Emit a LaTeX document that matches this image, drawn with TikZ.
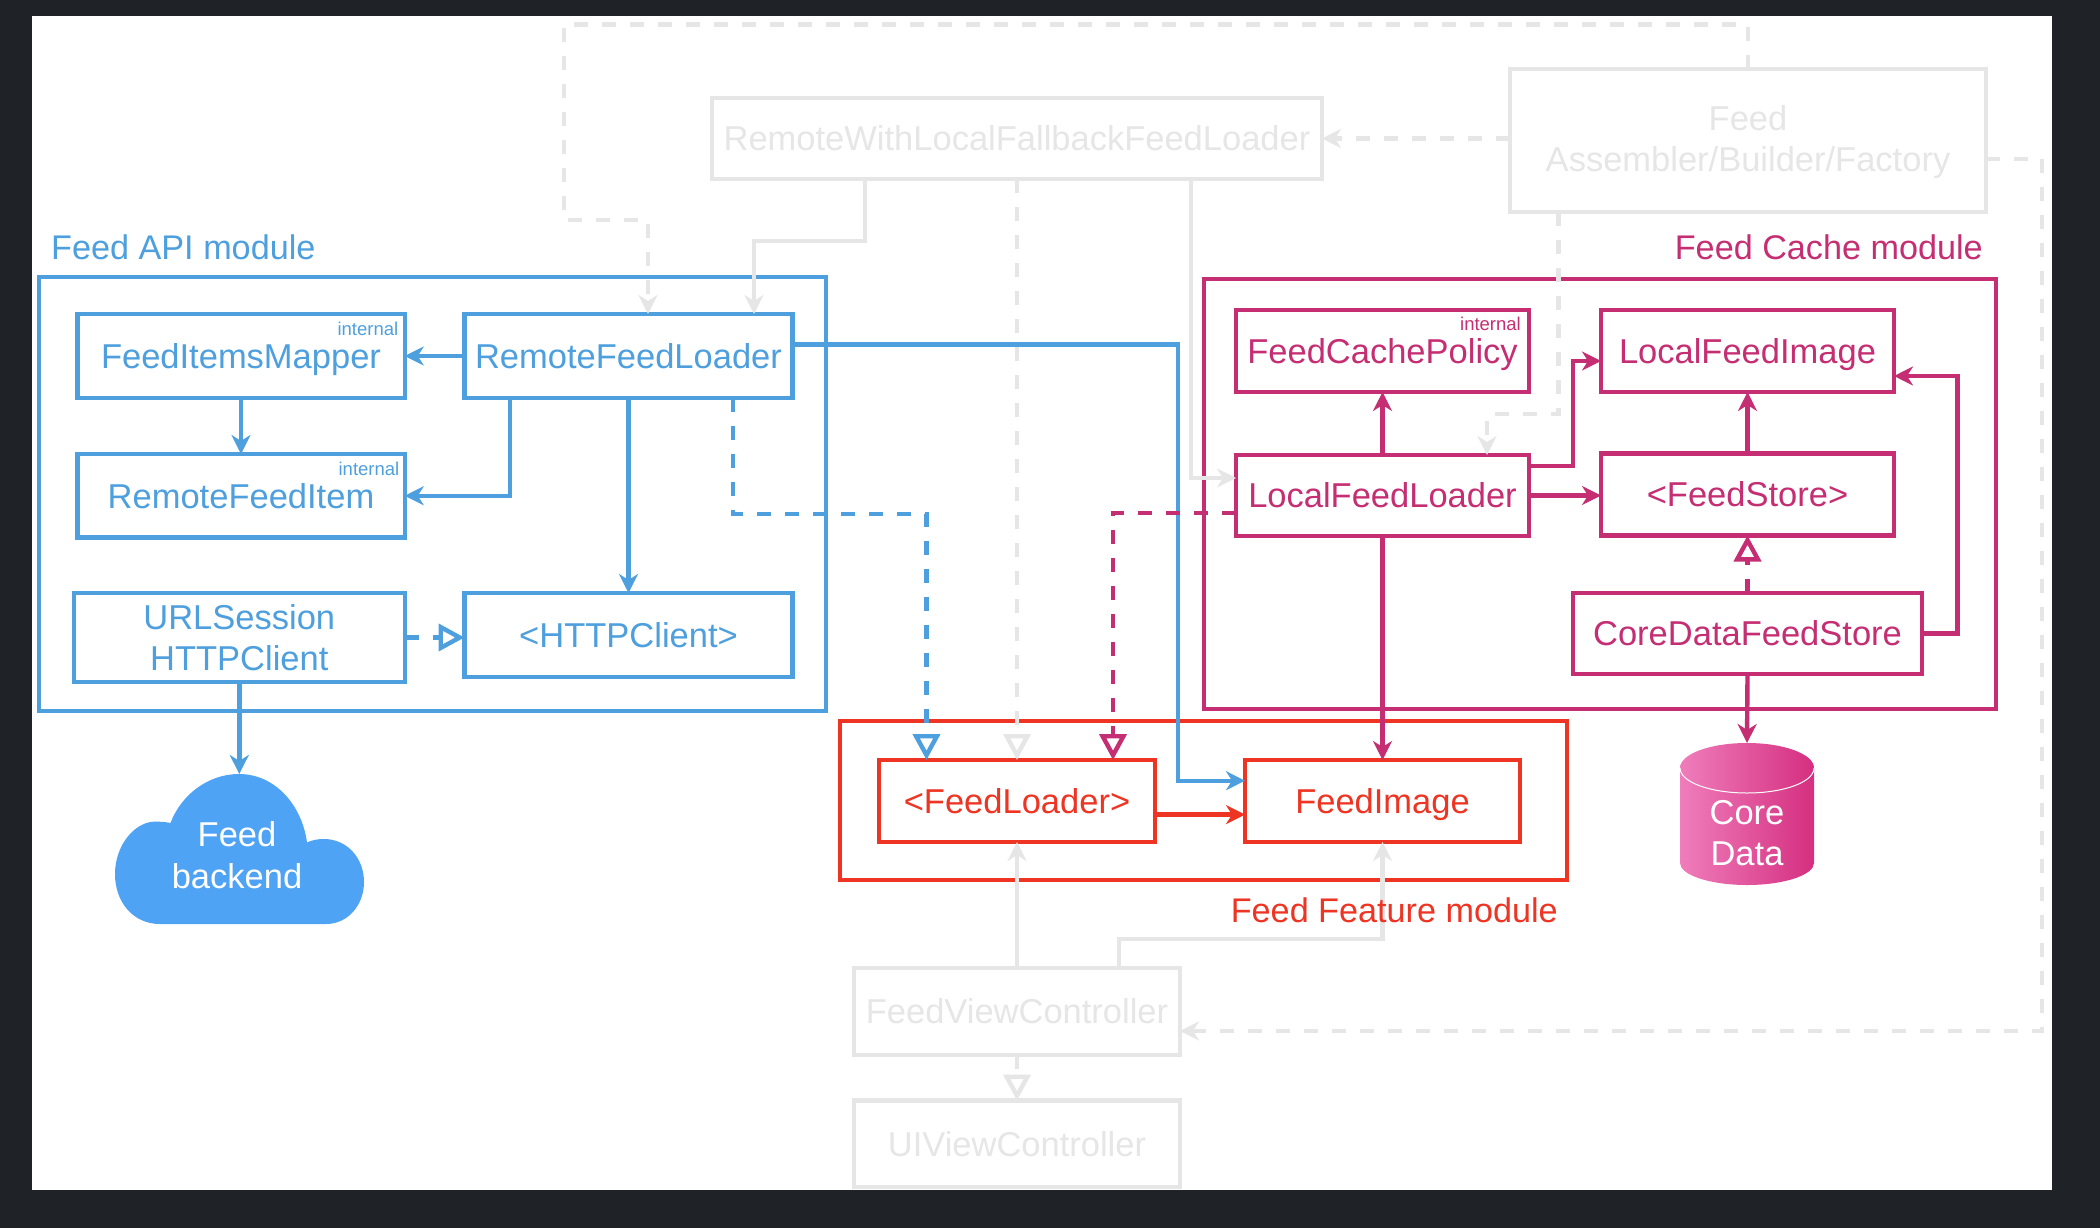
\documentclass[tikz,border=0pt]{standalone}
\usepackage{fontspec}
\setmainfont{Liberation Sans}
\usetikzlibrary{arrows.meta,calc}
\definecolor{bl}{HTML}{4E9FDE}
\definecolor{mg}{HTML}{C52E72}
\definecolor{rd}{HTML}{EE3524}
\definecolor{gy}{HTML}{E6E6E6}
\definecolor{darkbg}{HTML}{1F2227}
\definecolor{cloudc}{HTML}{4FA3F5}
\definecolor{cylL}{HTML}{EF7DBB}
\definecolor{cylR}{HTML}{D52F80}
\tikzset{
  bx/.style={draw,line width=4.5pt,inner sep=0pt,outer sep=0pt,align=center,
    font=\fontsize{34.5}{41}\selectfont,text height=27pt,text depth=2.4pt},
  twol/.style={draw,line width=4.5pt,inner sep=0pt,outer sep=0pt,align=center,
    font=\fontsize{34.5}{41}\selectfont},
  frame/.style={draw,line width=4pt,inner sep=0pt,outer sep=0pt},
  lbl/.style={inner sep=0pt,font=\fontsize{34.2}{41}\selectfont},
  intl/.style={inner sep=0pt,anchor=base east,font=\fontsize{18.5}{20}\selectfont},
  con/.style={line width=4.4pt},
  head/.style={con,-{Stealth[length=19pt,width=19pt,inset=6pt]}},
  hollow/.style={con,-{Triangle[open,length=26pt,width=27pt,fill=white]}},
  dsh/.style={dash pattern=on 14pt off 14pt}
}
\newcommand{\hs}{\rule{0pt}{28pt}}
\newcommand{\ds}{\rule[-3.4pt]{0pt}{3.4pt}}
\begin{document}
\begin{tikzpicture}[x=1pt,y=-1pt]
\useasboundingbox (0,0) rectangle (2100,1228);
\fill[darkbg] (0,0) rectangle (2100,1228);
\fill[white] (32,16) rectangle (2052,1190);
% module frames
\node[frame,draw=bl,minimum width=787pt,minimum height=434pt] (apif) at (432.5,494) {};
\node[frame,draw=mg,minimum width=792.5pt,minimum height=430pt] (cachef) at (1599.75,494) {};
\node[frame,draw=rd,line width=4.5pt,minimum width=727pt,minimum height=159pt] (featf) at (1203.5,800.5) {};
% cloud and cylinder
\fill[cloudc] (170.5,823) .. controls (181,795) and (208,774) .. (239,774)
  .. controls (275,774) and (302,805) .. (307,842.5)
  .. controls (312,840) and (318,839) .. (324,839)
  .. controls (347,839) and (364,858) .. (364,882)
  .. controls (364,905) and (348,924) .. (326,924) -- (160,924)
  .. controls (133,924) and (115,902) .. (115,874)
  .. controls (115,845) and (135,821.6) .. (155,821.6)
  .. controls (160,821.6) and (166,822) .. (170.5,823) -- cycle;
\shade[left color=cylL,right color=cylR] (1680,768) .. controls (1680,754) and (1710,743) .. (1747,743)
  .. controls (1784,743) and (1814,754) .. (1814,768) -- (1814,863)
  .. controls (1814,875) and (1784,885) .. (1747,885)
  .. controls (1710,885) and (1680,875) .. (1680,863) -- cycle;
\draw[white,line width=1pt] (1680,768) .. controls (1680,782) and (1710,793) .. (1747,793)
  .. controls (1784,793) and (1814,782) .. (1814,768);
\node[text=white,inner sep=0pt,outer sep=0pt,align=center,minimum width=249pt,minimum height=150pt,
  font=\fontsize{34.5}{41.5}\selectfont] (cloud) at (237,849) {\rule{0pt}{40pt}Feed\\backend\ds};
\node[text=white,inner sep=0pt,outer sep=0pt,align=center,minimum width=134pt,minimum height=142pt,
  font=\fontsize{34.5}{41}\selectfont] (cyl) at (1747,814) {\rule{0pt}{66pt}Core\\Data\ds};
% blue boxes
\node[bx,draw=bl,text=bl,minimum width=327.5pt,minimum height=84pt] (fim) at (241,356) {FeedItemsMapper};
\node[bx,draw=bl,text=bl,minimum width=328pt,minimum height=84pt] (rfl) at (628.5,356) {RemoteFeedLoader};
\node[bx,draw=bl,text=bl,minimum width=327.5pt,minimum height=83.5pt] (rfi) at (241,495.75) {RemoteFeedItem};
\node[twol,draw=bl,text=bl,minimum width=331pt,minimum height=89pt] (url) at (239.3,637.5) {\hs URLSession\\HTTPClient\ds};
\node[bx,draw=bl,text=bl,minimum width=328pt,minimum height=84pt] (http) at (628.5,635) {<HTTPClient>};
% magenta boxes
\node[bx,draw=mg,text=mg,minimum width=293pt,minimum height=82pt] (fcp) at (1382.5,351) {FeedCachePolicy};
\node[bx,draw=mg,text=mg,minimum width=293pt,minimum height=82pt] (lfi) at (1747.5,351) {LocalFeedImage};
\node[bx,draw=mg,text=mg,minimum width=293pt,minimum height=81pt] (lfl) at (1382.5,495.5) {LocalFeedLoader};
\node[bx,draw=mg,text=mg,minimum width=293pt,minimum height=82pt] (fs) at (1747.5,494.5) {<FeedStore>};
\node[bx,draw=mg,text=mg,minimum width=349pt,minimum height=81pt] (cdfs) at (1747.5,633.5) {CoreDataFeedStore};
% red boxes
\node[bx,draw=rd,text=rd,minimum width=276pt,minimum height=82pt] (fl) at (1017,801) {<FeedLoader>};
\node[bx,draw=rd,text=rd,minimum width=275pt,minimum height=82pt] (fi) at (1382.5,801) {FeedImage};
% gray boxes
\node[bx,draw=gy,text=gy,minimum width=610pt,minimum height=81pt] (rwl) at (1017,138.5) {RemoteWithLocalFallbackFeedLoader};
\node[twol,draw=gy,text=gy,minimum width=476pt,minimum height=143pt] (asm) at (1748,140.5) {\hs Feed\\Assembler/Builder/Factory\ds};
\node[bx,draw=gy,text=gy,minimum width=326pt,minimum height=87pt] (fvc) at (1017,1011.5) {FeedViewController};
\node[bx,draw=gy,text=gy,minimum width=326pt,minimum height=86.5pt] (uivc) at (1017,1143.75) {UIViewController};
% bend coordinates
\coordinate (topl) at (564,24.7);
\coordinate (midl) at (564,220);
\coordinate (rb) at (2042,159);
% gray connectors
\begin{scope}[draw=gy,color=gy]
\draw[head,dsh] (asm.north) |- (topl) -- (midl) -| ([xshift=19.5pt]rfl.north);
\draw[head] ([xshift=-152pt]rwl.south) -- ++(0,62) -| ([xshift=125.5pt]rfl.north);
\draw[hollow,dsh] (rwl.south) -- (fl.north);
\draw[head] ([xshift=174pt]rwl.south) |- ([yshift=17.5pt]lfl.west);
\draw[head,dsh] (asm.west |- rwl.east) -- (rwl.east);
\draw[head,dsh] ([xshift=-189.5pt]asm.south) -- ++(0,202) -| ([xshift=104.5pt]lfl.north);
\draw[head,dsh] ([yshift=-18.5pt]asm.east) -- (rb) |- ([yshift=-19.5pt]fvc.east);
\draw[head] (fvc.north) -- (fl.south);
\draw[head] ([xshift=102pt]fvc.north) -- ++(0,-29) -| (fi.south);
\draw[hollow,dsh] (fvc.south) -- (uivc.north);
\end{scope}
% blue connectors
\begin{scope}[draw=bl,color=bl]
\draw[head] (rfl.west) -- (fim.east);
\draw[head] (fim.south) -- (rfi.north);
\draw[head] ([xshift=-118.5pt]rfl.south) |- (rfi.east);
\draw[head] (rfl.south) -- (http.north);
\draw[hollow,dsh] (url.east) -- (http.west |- url.east);
\draw[head] (url.south) -- (url.south |- cloud.north);
\draw[hollow,dsh] ([xshift=104.5pt]rfl.south) -- ++(0,116) -| ([xshift=-90.5pt]fl.north);
\draw[head] ([yshift=11.4pt]rfl.east) -- ++(385.5,0) |- ([yshift=20.3pt]fi.west);
\end{scope}
% magenta connectors
\begin{scope}[draw=mg,color=mg]
\draw[hollow,dsh] ([yshift=-17.5pt]lfl.west) -| ([xshift=96pt]fl.north);
\draw[head] (lfl.north) -- (fcp.south);
\draw[head] ([yshift=29.5pt]lfl.east) -- ++(44,0) |- ([yshift=-10pt]lfi.west);
\draw[head] (lfl.east) -- (fs.west |- lfl.east);
\draw[head] (fs.north) -- (lfi.south);
\draw[hollow,dsh] (cdfs.north) -- (fs.south);
\draw[head] (cdfs.east) -- ++(35.6,0) |- ([yshift=-25pt]lfi.east);
\draw[head] (cdfs.south) -- (cyl.north);
\draw[head] (lfl.south) -- (fi.north);
\end{scope}
% red connector
\draw[head,draw=rd,color=rd] ([yshift=-13.6pt]fl.east) -- ([yshift=-13.6pt]fi.west);
% labels
\node[lbl,text=bl,anchor=base west] (apil) at (51,259.5) {Feed API module};
\node[lbl,text=mg,anchor=base east] (cachel) at (1983,259) {Feed Cache module};
\node[lbl,text=rd,anchor=base east] (featl) at (1558,922) {Feed Feature module};
\node[intl,text=bl] (i1) at (398.4,335.5) {internal};
\node[intl,text=bl] (i2) at (399.5,475.5) {internal};
\node[intl,text=mg] (i3) at (1521,330.5) {internal};
\end{tikzpicture}
\end{document}
